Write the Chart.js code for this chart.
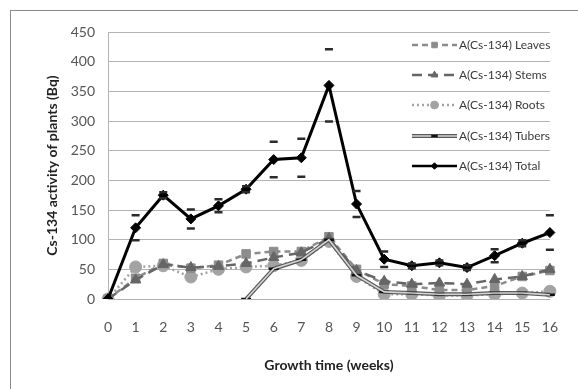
<!DOCTYPE html>
<html>
<head>
<meta charset="utf-8">
<script src="https://cdn.jsdelivr.net/npm/chart.js@4.4.1/dist/chart.umd.min.js"></script>
<style>
html, body { margin: 0; padding: 0; background: #fff; }
#wrap { width: 578px; height: 389px; position: relative; }
</style>
</head>
<body>
<div id="wrap"><canvas id="c" width="578" height="389"></canvas></div>
<script>
var weeks = ['0', '1', '2', '3', '4', '5', '6', '7', '8', '9', '10', '11', '12', '13', '14', '15', '16'];
var yTicks = [0, 50, 100, 150, 200, 250, 300, 350, 400, 450];
var leaves = [0, 35, 60, 52, 57, 76, 80, 80, 105, 50, 25, 22, 15, 15, 22, 38, 48];
var stems = [0, 32, 58, 53, 55, 60, 70, 78, 102, 48, 30, 25, 27, 25, 33, 38, 50];
var roots = [0, 54, 56, 37, 50, 54, 56, 65, 97, 38, 8, 8, 6, 6, 8, 10, 13];
var tubers = [null, null, null, null, null, 0, 51, 66, 100, 40, 12, 10, 8, 8, 10, 10, 7];
var total = [0, 120, 175, 135, 157, 185, 235, 238, 360, 160, 67, 56, 61, 53, 73, 94, 112];
var totalErr = [0, 21, 5, 16, 11, 5, 30, 32, 61, 22, 13, 4, 4, 4, 11, 5, 29];

var FONT = 'Lato, "Open Sans", sans-serif';

// frame round the whole picture
var framePlugin = {
    id: 'frame',
    beforeDraw: function (chart) {
        var ctx = chart.ctx;
        ctx.save();
        ctx.strokeStyle = '#8a8a8a';
        ctx.lineWidth = 1;
        ctx.strokeRect(10.5, 10.5, 700, 500);
        ctx.restore();
    }
};

// error bar caps on the Total series, and the light core of the Tubers line
var extrasPlugin = {
    id: 'extras',
    afterDatasetDraw: function (chart, args) {
        var ctx = chart.ctx;
        var ds = chart.data.datasets[args.index];
        var meta = args.meta;
        var yScale = chart.scales.y;
        if (ds.label.indexOf('Tubers') >= 0) {
            ctx.save();
            ctx.strokeStyle = '#d4d4d4';
            ctx.lineWidth = 1.6;
            ctx.beginPath();
            var started = false;
            meta.data.forEach(function (pt, i) {
                if (ds.data[i] === null) return;
                if (!started) { ctx.moveTo(pt.x, pt.y); started = true; }
                else ctx.lineTo(pt.x, pt.y);
            });
            ctx.stroke();
            ctx.restore();
        }
        if (ds.label.indexOf('Total') >= 0) {
            ctx.save();
            ctx.strokeStyle = '#2b2b2b';
            ctx.lineWidth = 2.5;
            meta.data.forEach(function (pt, i) {
                var e = totalErr[i];
                if (!e) return;
                var hi = yScale.getPixelForValue(ds.data[i] + e);
                var lo = yScale.getPixelForValue(ds.data[i] - e);
                ctx.beginPath();
                ctx.moveTo(pt.x - 4, hi); ctx.lineTo(pt.x + 4, hi);
                ctx.moveTo(pt.x - 4, lo); ctx.lineTo(pt.x + 4, lo);
                ctx.stroke();
            });
            ctx.restore();
        }
    }
};

// legend drawn over the plot, right side
var legendPlugin = {
    id: 'sideLegend',
    afterDraw: function (chart) {
        var ctx = chart.ctx;
        var rows = [45, 75, 105, 136, 166];
        var x0 = 412, x1 = 457;
        chart.data.datasets.forEach(function (ds, i) {
            var y = rows[i];
            ctx.save();
            ctx.strokeStyle = ds.borderColor;
            ctx.lineWidth = Math.min(ds.borderWidth, 2.5);
            ctx.setLineDash(ds.borderDash || []);
            ctx.beginPath();
            ctx.moveTo(x0, y); ctx.lineTo(x1, y);
            ctx.stroke();
            if (ds.label.indexOf('Tubers') >= 0) {
                ctx.lineWidth = 4;
                ctx.stroke();
                ctx.strokeStyle = '#d4d4d4';
                ctx.lineWidth = 1.6;
                ctx.beginPath();
                ctx.moveTo(x0, y); ctx.lineTo(x1, y);
                ctx.stroke();
            }
            ctx.setLineDash([]);
            ctx.fillStyle = ds.pointBackgroundColor;
            ctx.strokeStyle = ds.pointBorderColor;
            ctx.lineWidth = ds.pointBorderWidth || 1;
            Chart.helpers.drawPoint(ctx, {
                pointStyle: ds.pointStyle,
                radius: ds.pointRadius * 0.65,
                rotation: 0,
                borderWidth: ds.pointBorderWidth || 1
            }, (x0 + x1) / 2, y);
            ctx.fillStyle = '#3a3a3a';
            ctx.font = '12px ' + FONT;
            ctx.textBaseline = 'middle';
            ctx.fillText(ds.label, x1 + 2, y);
            ctx.restore();
        });
    }
};

function series(label, data, color, dash, width, style, radius, order) {
    return {
        label: label,
        data: data,
        borderColor: color,
        backgroundColor: color,
        pointBackgroundColor: color,
        pointBorderColor: color,
        borderWidth: width,
        borderDash: dash,
        pointStyle: style,
        pointRadius: radius,
        pointHoverRadius: radius,
        pointBorderWidth: 1,
        tension: 0,
        spanGaps: false,
        order: order
    };
}

var datasets = [
    series('A(Cs-134) Leaves', leaves, '#8c8c8c', [6, 4], 2.5, 'rect', 6, 4),
    series('A(Cs-134) Stems', stems, '#666666', [10, 6], 2.5, 'triangle', 6, 3),
    series('A(Cs-134) Roots', roots, '#a3a3a3', [2, 3], 2.5, 'circle', 6, 5),
    series('A(Cs-134) Tubers', tubers, '#5a5a5a', [], 4, 'line', 5, 2),
    series('A(Cs-134) Total', total, '#000000', [], 3, 'rectRot', 5, 1)
];
datasets[3].pointBorderColor = '#111';
datasets[3].pointBorderWidth = 2.5;

new Chart(document.getElementById('c'), {
    type: 'line',
    data: { labels: weeks, datasets: datasets },
    options: {
        responsive: false,
        animation: false,
        events: [],
        layout: { padding: { left: 0, right: 10, top: 32, bottom: 0 } },
        plugins: {
            legend: { display: false },
            tooltip: { enabled: false }
        },
        scales: {
            x: {
                offset: false,
                grid: { display: false, drawTicks: false },
                border: { display: true, color: '#b0b0b0' },
                ticks: {
                    color: '#555',
                    font: { family: FONT, size: 14 },
                    padding: 20,
                    maxRotation: 0,
                    autoSkip: false
                },
                title: {
                    display: true,
                    text: 'Growth time (weeks)',
                    color: '#222',
                    font: { family: FONT, size: 14, weight: 'bold' },
                    padding: { top: 0, bottom: 15 }
                },
                afterFit: function (scale) { scale.height = 90; }
            },
            y: {
                min: 0,
                max: 450,
                afterBuildTicks: function (scale) {
                    scale.ticks = yTicks.map(function (v) { return { value: v }; });
                },
                grid: { color: '#b4b4b4', drawTicks: false, lineWidth: 1 },
                border: { display: true, color: '#b4b4b4' },
                ticks: {
                    color: '#555',
                    font: { family: FONT, size: 14 },
                    padding: 13
                },
                title: {
                    display: true,
                    text: 'Cs-134 activity of plants (Bq)',
                    color: '#222',
                    font: { family: FONT, size: 14, weight: 'bold' },
                    padding: { top: 44, bottom: 0 }
                },
                afterFit: function (scale) { scale.width = 108; }
            }
        }
    },
    plugins: [framePlugin, extrasPlugin, legendPlugin]
});
</script>
</body>
</html>
